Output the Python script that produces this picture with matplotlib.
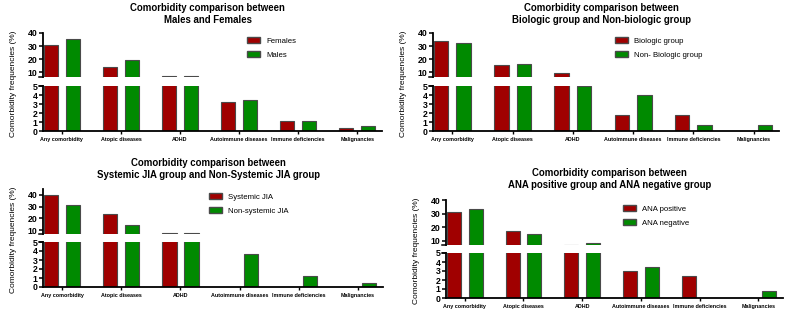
import matplotlib
matplotlib.use("Agg")
import numpy as np
import matplotlib.pyplot as plt
from matplotlib.patches import Patch

plt.rcParams['font.family'] = ['Liberation Sans', 'DejaVu Sans']

W, H = 792, 312

categories = ['Any comorbidity', 'Atopic diseases', 'ADHD',
              'Autoimmune diseases', 'Immune deficiencies', 'Malignancies']

titles = ['Comorbidity comparison between\nMales and Females',
          'Comorbidity comparison between\nBiologic group and Non-biologic group',
          'Comorbidity comparison between\nSystemic JIA group and Non-Systemic JIA group',
          'Comorbidity comparison between\nANA positive group and ANA negative group']

labels = [('Females', 'Males'),
          ('Biologic group', 'Non- Biologic group'),
          ('Systemic JIA', 'Non-systemic JIA'),
          ('ANA positive', 'ANA negative')]

females = [30.5, 14.0, 7.2, 3.2, 1.1, 0.35]
males = [35.5, 19.0, 7.0, 3.4, 1.1, 0.55]
biologic = [33.5, 15.5, 9.5, 1.75, 1.75, 0.0]
non_biologic = [32.0, 16.3, 5.0, 4.05, 0.65, 0.65]
systemic = [40.0, 24.0, 7.6, 0.0, 0.0, 0.0]
non_systemic = [31.0, 14.5, 7.3, 3.7, 1.2, 0.45]
ana_pos = [31.5, 17.0, 7.0, 3.0, 2.5, 0.0]
ana_neg = [33.0, 15.0, 8.0, 3.4, 0.0, 0.75]

series = [(females, males), (biologic, non_biologic),
          (systemic, non_systemic), (ana_pos, ana_neg)]

RED = '#a00000'
GREEN = '#008a00'
EDGE = '#4a4a4a'

# pixel layout: (left, right, top-seg top, top-seg bottom, low-seg top, low-seg bottom, top ymin, top ymax)
layout = [
    (43, 382, 33, 77, 86, 131, 6.2, 40),
    (433, 779, 33, 77, 86, 131, 6.2, 40),
    (43, 383, 189, 234, 242, 287, 6.6, 45),
    (446, 783, 200, 245, 253, 298, 6.8, 40),
]
title_y = [3, 3, 158, 168]
legend_pos = [(243, 33), (611, 33), (205, 189), (619, 201)]


def rect(l, r, t, b):
    return [l / W, 1 - b / H, (r - l) / W, (b - t) / H]


def draw_panel(fig, i):
    l, r, tt, tb, lt, lb, ymin, ymax = layout[i]
    a, b = series[i]
    x = np.arange(len(categories))
    ax_top = fig.add_axes(rect(l, r, tt, tb))
    ax_low = fig.add_axes(rect(l, r, lt, lb))
    for ax in (ax_top, ax_low):
        ax.bar(x - 0.186, a, 0.24, color=RED, edgecolor=EDGE, linewidth=0.8)
        ax.bar(x + 0.186, b, 0.24, color=GREEN, edgecolor=EDGE, linewidth=0.8)
        ax.set_xlim(-0.32, 5.42)
        for s in ('top', 'right'):
            ax.spines[s].set_visible(False)
        ax.spines['left'].set_linewidth(1.3)
        ax.tick_params(axis='y', labelsize=6.3, width=1.1, length=3, pad=1)
    ax_top.set_ylim(ymin, ymax)
    ax_top.set_yticks([10, 20, 30, 40])
    ax_top.spines['bottom'].set_visible(False)
    ax_top.set_xticks([])
    ax_low.set_ylim(0, 5)
    ax_low.set_yticks([0, 1, 2, 3, 4, 5])
    ax_low.spines['bottom'].set_linewidth(1.3)
    ax_low.set_xticks(x)
    ax_low.set_xticklabels(categories, fontsize=3.9, fontweight='bold')
    ax_low.tick_params(axis='x', width=1.0, length=2.5, pad=1.5)
    for t in ax_top.get_yticklabels() + ax_low.get_yticklabels():
        t.set_fontweight('bold')
    # break marks on the y-axis
    ax_top.plot([-0.012, 0], [0, 0], transform=ax_top.transAxes,
                color='black', lw=1.1, clip_on=False)
    ax_low.plot([-0.012, 0], [1, 1], transform=ax_low.transAxes,
                color='black', lw=1.1, clip_on=False)

    cx = (l + r) / 2 - 5
    fig.text(cx / W, 1 - title_y[i] / H, titles[i], ha='center', va='top',
             fontsize=6.9, fontweight='bold', linespacing=1.3)
    fig.text((l - 29) / W, 1 - ((tt + lb) / 2 + 2) / H, 'Comorbidity frequencies (%)',
             rotation=90, ha='center', va='center', fontsize=6.0)
    handles = [Patch(facecolor=RED, edgecolor=EDGE, label=labels[i][0]),
               Patch(facecolor=GREEN, edgecolor=EDGE, label=labels[i][1])]
    lx, ly = legend_pos[i]
    fig.legend(handles=handles, loc='upper left',
               bbox_to_anchor=(lx / W, 1 - ly / H), frameon=False,
               fontsize=5.6, handlelength=1.7, handleheight=0.8,
               labelspacing=0.85, handletextpad=0.8, borderpad=0)


fig = plt.figure(figsize=(W / 100, H / 100), dpi=100)
for i in range(4):
    draw_panel(fig, i)

fig.savefig('out.png', dpi=100, facecolor='white')
